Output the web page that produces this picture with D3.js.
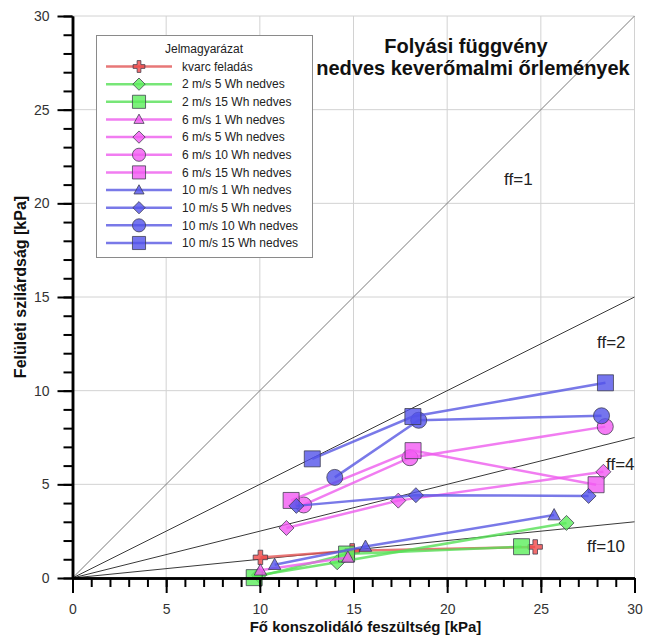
<!DOCTYPE html>
<html><head><meta charset="utf-8">
<script src="https://cdn.jsdelivr.net/npm/d3@7"></script>
<style>body{margin:0;background:#fff;}svg{display:block;font-family:Arial,"Liberation Sans",sans-serif;}</style>
</head><body>
<svg id="c" width="645" height="642"></svg>
<script>
// ---- data ----
const seriesNames = ["kvarc feladás","2 m/s 5 Wh nedves","2 m/s 15 Wh nedves","6 m/s 1 Wh nedves","6 m/s 5 Wh nedves","6 m/s 10 Wh nedves","6 m/s 15 Wh nedves","10 m/s 1 Wh nedves","10 m/s 5 Wh nedves","10 m/s 10 Wh nedves","10 m/s 15 Wh nedves"];
const seriesShapes = ["cross","diamond","square","triangle","diamond","circle","square","triangle","diamond","circle","square"];
const seriesColors = ["red","green","green","magenta","magenta","magenta","magenta","blue","blue","blue","blue"];
const kvarc      = [[10.03,1.10],[14.93,1.45],[24.70,1.66]];
const v2_5Wh     = [[9.95,0.15],[14.13,0.84],[26.37,2.94]];
const v2_15Wh    = [[9.70,0.02],[14.63,1.28],[23.97,1.67]];
const v6_1Wh     = [[10.03,0.41],[14.70,1.10]];
const v6_5Wh     = [[11.42,2.67],[17.39,4.13],[28.34,5.67]];
const v6_10Wh    = [[12.34,3.90],[18.01,6.42],[28.44,8.08]];
const v6_15Wh    = [[11.67,4.14],[18.18,6.80],[27.95,4.98]];
const v10_1Wh    = [[10.79,0.71],[15.64,1.68],[25.71,3.36]];
const v10_5Wh    = [[11.95,3.85],[18.33,4.42],[27.55,4.38]];
const v10_10Wh   = [[14.00,5.37],[18.48,8.42],[28.24,8.66]];
const v10_15Wh   = [[12.80,6.36],[18.17,8.62],[28.45,10.42]];
const seriesData = [kvarc,v2_5Wh,v2_15Wh,v6_1Wh,v6_5Wh,v6_10Wh,v6_15Wh,v10_1Wh,v10_5Wh,v10_10Wh,v10_15Wh];
const ffValues = [1,2,4,10];
const ffLabelPos = [[23.04,20.98],[28.0,12.28],[28.48,5.77],[27.47,1.39]];
const majorTicks = [0,5,10,15,20,25,30];
const minorTicks = d3.range(0,31,1);
const titleLines = ["Folyási függvény","nedves keverőmalmi őrlemények"];
const legendTitle = "Jelmagyarázat";
const xTitle = "Fő konszolidáló feszültség [kPa]";
const yTitle = "Felületi szilárdság [kPa]";

// ---- styles ----
const palette = {
  red:{line:"#e25555", fill:"#f04848"},
  green:{line:"#55e055", fill:"#5bee5b"},
  magenta:{line:"#ee5cee", fill:"#f25af2"},
  blue:{line:"#5858e2", fill:"#5252ea"}
};

const svg = d3.select("#c");
const x = d3.scaleLinear().domain([0,30]).range([72.5,634.5]);
const y = d3.scaleLinear().domain([0,30]).range([578,16]);

function marker(shape, k){
  k = k || 1;
  if(shape==="square"){const h=8*k;return `M${-h},${-h}H${h}V${h}H${-h}Z`;}
  if(shape==="circle"){const r=8*k;return `M${r},0A${r},${r} 0 1,1 ${-r},0A${r},${r} 0 1,1 ${r},0Z`;}
  if(shape==="diamond"){const h=7.5*k;return `M0,${-h}L${h},0L0,${h}L${-h},0Z`;}
  if(shape==="triangle"){const w=6.2*k,t=6.5*k,b=4.8*k;return `M0,${-t}L${w},${b}L${-w},${b}Z`;}
  if(shape==="cross"){const a=7.2*k,t=2.3*k;return `M${-t},${-a}H${t}V${-t}H${a}V${t}H${t}V${a}H${-t}V${t}H${-a}V${-t}H${-t}Z`;}
}

// grid
const grid = svg.append("g");
majorTicks.filter(d=>d>0).forEach(v=>{
  grid.append("line").attr("x1",x(v)).attr("x2",x(v)).attr("y1",y(0)).attr("y2",y(30)).attr("stroke","#d2d2d2").attr("stroke-width",1);
  grid.append("line").attr("x1",x(0)).attr("x2",x(30)).attr("y1",y(v)).attr("y2",y(v)).attr("stroke","#d2d2d2").attr("stroke-width",1);
});

// ff lines
const line = d3.line().x(d=>x(d[0])).y(d=>y(d[1]));
ffValues.forEach((f,i)=>{
  svg.append("path").attr("d",line([[0,0],[30,30/f]])).attr("fill","none")
    .attr("stroke", i===0?"#7a7a7a":"#3a3a3a").attr("stroke-width",1);
  svg.append("text").attr("x",x(ffLabelPos[i][0])).attr("y",y(ffLabelPos[i][1]))
    .attr("font-size",17).attr("fill","#222").text("ff="+f);
});

// title
titleLines.forEach((t,i)=>{
  svg.append("text").attr("x",i===0?466:473).attr("y",i===0?53:75).attr("text-anchor","middle")
    .attr("font-size",20).attr("font-weight","bold").attr("fill","#111").text(t);
});

// series
seriesData.forEach((data,i)=>{
  const col = palette[seriesColors[i]];
  const g = svg.append("g");
  g.append("path").attr("d",line(data)).attr("fill","none").attr("stroke",col.line)
    .attr("stroke-width",2.5).attr("stroke-opacity",0.8);
  g.selectAll("path.m").data(data).join("path").attr("class","m")
    .attr("transform",d=>`translate(${x(d[0])},${y(d[1])})`)
    .attr("d",marker(seriesShapes[i],1))
    .attr("fill",col.fill).attr("fill-opacity",0.8)
    .attr("stroke","#3a3a4a").attr("stroke-opacity",0.75).attr("stroke-width",1);
});

// axes
const xAxisMinor = d3.axisBottom(x).tickValues(minorTicks).tickSize(9).tickSizeOuter(0).tickFormat("");
const xAxisMajor = d3.axisBottom(x).tickValues(majorTicks).tickSize(15).tickSizeOuter(0).tickPadding(11);
const yAxisMinor = d3.axisLeft(y).tickValues(minorTicks).tickSize(9).tickSizeOuter(0).tickFormat("");
const yAxisMajor = d3.axisLeft(y).tickValues(majorTicks).tickSize(15).tickSizeOuter(0).tickPadding(8);
function styleAxis(g){
  g.selectAll("path.domain").attr("stroke","#000").attr("stroke-width",2.5);
  g.selectAll(".tick line").attr("stroke","#000").attr("stroke-width",2);
  g.selectAll(".tick text").attr("font-size",14).attr("fill","#333").attr("font-family","Arial, 'Liberation Sans', sans-serif");
}
styleAxis(svg.append("g").attr("transform",`translate(0,${y(0)})`).call(xAxisMinor));
styleAxis(svg.append("g").attr("transform",`translate(0,${y(0)})`).call(xAxisMajor));
styleAxis(svg.append("g").attr("transform",`translate(${x(0)},0)`).call(yAxisMinor));
styleAxis(svg.append("g").attr("transform",`translate(${x(0)},0)`).call(yAxisMajor));

svg.append("text").attr("x",(250+481)/2).attr("y",632).attr("text-anchor","middle")
  .attr("font-size",15).attr("font-weight","bold").attr("fill","#111").text(xTitle);
svg.append("text").attr("transform","translate(26,287) rotate(-90)").attr("text-anchor","middle")
  .attr("font-size",16).attr("font-weight","bold").attr("fill","#111").text(yTitle);

// legend
const lg = svg.append("g");
lg.append("rect").attr("x",96.5).attr("y",35.5).attr("width",216).attr("height",222)
  .attr("fill","#fff").attr("stroke","#8a8a8a").attr("stroke-width",1);
lg.append("text").attr("x",204).attr("y",49).attr("dy","0.35em").attr("text-anchor","middle")
  .attr("font-size",12).attr("fill","#222").text(legendTitle);
seriesNames.forEach((n,i)=>{
  const yy = 66.5 + i*17.65;
  const col = palette[seriesColors[i]];
  lg.append("line").attr("x1",106).attr("x2",172).attr("y1",yy).attr("y2",yy)
    .attr("stroke",col.line).attr("stroke-width",2.5).attr("stroke-opacity",0.8);
  lg.append("path").attr("transform",`translate(139,${yy})`).attr("d",marker(seriesShapes[i],0.82))
    .attr("fill",col.fill).attr("fill-opacity",0.8).attr("stroke","#3a3a4a").attr("stroke-opacity",0.75);
  lg.append("text").attr("x",182).attr("y",yy).attr("dy","0.35em").attr("font-size",12)
    .attr("fill","#222").text(n);
});
</script>
</body></html>
